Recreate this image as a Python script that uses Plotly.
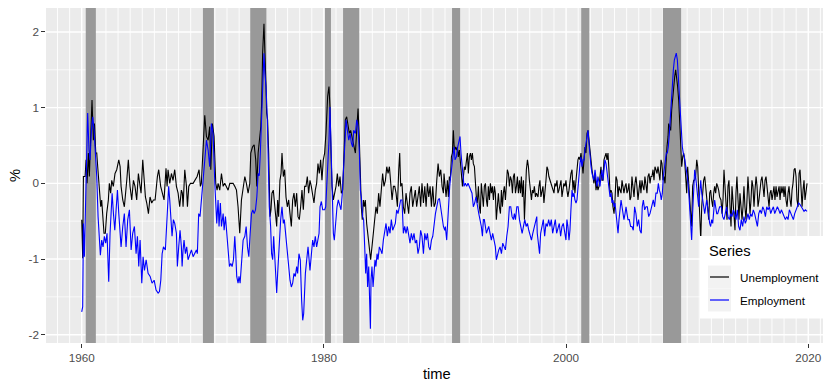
import plotly.graph_objects as go

# ---------------- data ----------------
series_names = ["Unemployment", "Employment"]
x_tick_vals = [1960, 1980, 2000, 2020]
y_tick_vals = [-2, -1, 0, 1, 2]

rec_start = [1960.333, 1970.0, 1973.917, 1980.083, 1981.583, 1990.583, 2001.25, 2008.0]
rec_end = [1961.167, 1970.917, 1975.25, 1980.583, 1982.917, 1991.25, 2001.917, 2009.5]

unemp_points = [
    (1960.00, -0.48), (1960.08, -0.99), (1960.14, 0.09), (1960.28, 0.09), (1960.36, 0.31),
    (1960.44, 0.00), (1960.55, 0.40), (1960.63, 0.09), (1960.74, 0.62), (1960.85, 1.10),
    (1960.96, 0.57), (1961.05, 0.79), (1961.16, 0.40), (1961.24, 0.40), (1961.32, 0.22),
    (1961.46, -0.04), (1961.57, -0.31), (1961.65, -0.22), (1961.73, -0.48), (1961.84, -0.66),
    (1961.95, -0.66), (1962.06, -0.40), (1962.20, -0.22), (1962.28, 0.00), (1962.39, -0.13),
    (1962.48, 0.04), (1962.61, -0.04), (1962.75, 0.13), (1962.89, 0.18), (1963.06, 0.31),
    (1963.17, 0.22), (1963.25, -0.04), (1963.39, -0.22), (1963.52, -0.31), (1963.72, 0.04),
    (1963.85, 0.31), (1963.99, -0.04), (1964.13, -0.22), (1964.27, 0.04), (1964.40, -0.04),
    (1964.54, -0.22), (1964.68, 0.13), (1964.82, -0.04), (1964.90, -0.13), (1965.04, 0.31),
    (1965.15, 0.04), (1965.26, -0.18), (1965.37, -0.26), (1965.51, -0.40), (1965.64, -0.18),
    (1965.78, -0.26), (1965.92, -0.22), (1966.06, -0.22), (1966.25, 0.09), (1966.36, 0.18),
    (1966.52, -0.04), (1966.69, -0.13), (1966.80, -0.22), (1966.96, 0.20), (1967.05, -0.04),
    (1967.13, 0.18), (1967.27, 0.00), (1967.41, 0.13), (1967.54, 0.04), (1967.68, 0.18),
    (1967.82, -0.04), (1967.96, -0.13), (1968.09, -0.31), (1968.23, -0.09), (1968.31, -0.13),
    (1968.37, -0.31), (1968.51, 0.18), (1968.65, -0.04), (1968.73, -0.31), (1968.84, -0.04),
    (1968.98, 0.00), (1969.20, 0.00), (1969.33, 0.04), (1969.53, 0.09), (1969.69, 0.18),
    (1969.80, -0.04), (1969.88, 0.00), (1969.97, 0.35), (1970.16, 0.90), (1970.30, 0.62),
    (1970.44, 0.57), (1970.57, 0.75), (1970.66, 0.18), (1970.79, 0.79), (1970.93, 0.62),
    (1971.07, 0.00), (1971.18, -0.09), (1971.26, 0.00), (1971.40, -0.09), (1971.54, 0.13),
    (1971.68, -0.04), (1971.81, 0.00), (1971.95, -0.04), (1972.09, -0.09), (1972.23, 0.00),
    (1972.50, 0.00), (1972.64, -0.04), (1972.78, -0.09), (1972.91, -0.31), (1972.99, -0.48),
    (1973.05, -0.66), (1973.19, -0.22), (1973.33, -0.04), (1973.47, 0.09), (1973.60, 0.00),
    (1973.74, -0.13), (1973.88, 0.00), (1973.96, 0.40), (1974.10, 0.48), (1974.24, 0.51),
    (1974.37, 0.31), (1974.46, -0.04), (1974.57, 0.40), (1974.79, 0.75), (1974.86, 1.06),
    (1974.94, 1.72), (1975.05, 2.11), (1975.13, 1.81), (1975.22, 1.28), (1975.27, 0.93),
    (1975.35, 0.84), (1975.44, 0.40), (1975.55, -0.44), (1975.63, -0.35), (1975.71, -0.13),
    (1975.82, -0.09), (1975.90, -0.22), (1975.99, -0.44), (1976.10, -0.57), (1976.18, -0.22),
    (1976.26, -0.44), (1976.37, 0.04), (1976.46, 0.13), (1976.54, 0.40), (1976.65, 0.09),
    (1976.76, 0.18), (1976.87, -0.18), (1976.98, -0.31), (1977.09, -0.22), (1977.20, -0.40),
    (1977.31, -0.57), (1977.42, -0.22), (1977.53, -0.13), (1977.64, -0.31), (1977.75, -0.13),
    (1977.86, -0.44), (1977.97, -0.48), (1978.08, -0.31), (1978.19, -0.09), (1978.30, -0.35),
    (1978.41, -0.04), (1978.52, -0.04), (1978.63, 0.09), (1978.74, -0.13), (1978.85, 0.04),
    (1978.96, -0.04), (1979.07, -0.13), (1979.18, -0.26), (1979.29, -0.09), (1979.40, 0.00),
    (1979.51, 0.26), (1979.62, 0.13), (1979.73, 0.31), (1979.84, 0.04), (1979.95, 0.31),
    (1980.06, 0.40), (1980.17, 0.66), (1980.31, 1.15), (1980.42, 1.28), (1980.50, 1.01),
    (1980.59, 0.40), (1980.67, -0.04), (1980.78, -0.22), (1980.89, -0.13), (1981.00, -0.04),
    (1981.11, 0.13), (1981.22, -0.04), (1981.33, 0.09), (1981.44, -0.13), (1981.55, -0.09),
    (1981.66, 0.40), (1981.77, 0.84), (1981.88, 0.88), (1981.99, 0.75), (1982.10, 0.66),
    (1982.21, 0.70), (1982.32, 0.62), (1982.46, 0.48), (1982.60, 0.40), (1982.71, 0.70),
    (1982.82, 0.99), (1982.93, 0.57), (1983.01, 0.04), (1983.09, -0.31), (1983.17, -0.48),
    (1983.26, -0.22), (1983.34, -0.31), (1983.42, -0.22), (1983.53, -0.53), (1983.64, -0.70),
    (1983.75, -0.88), (1983.86, -1.01), (1983.97, -0.84), (1984.08, -0.66), (1984.19, -0.48),
    (1984.30, -0.31), (1984.41, -0.40), (1984.52, -0.13), (1984.63, -0.31), (1984.74, -0.04),
    (1984.85, 0.13), (1984.96, -0.04), (1985.08, 0.04), (1985.19, 0.22), (1985.30, 0.13),
    (1985.41, 0.22), (1985.52, -0.04), (1985.63, -0.22), (1985.74, -0.04), (1985.85, -0.04),
    (1985.96, -0.13), (1986.07, -0.31), (1986.18, 0.18), (1986.26, 0.40), (1986.34, -0.04),
    (1986.45, 0.00), (1986.56, -0.31), (1986.67, -0.40), (1986.78, -0.13), (1986.89, -0.31),
    (1987.00, -0.40), (1987.11, -0.13), (1987.22, -0.04), (1987.33, -0.31), (1987.44, -0.22),
    (1987.55, -0.09), (1987.66, -0.31), (1987.77, -0.18), (1987.88, -0.04), (1987.99, -0.31),
    (1988.10, 0.00), (1988.22, -0.26), (1988.33, -0.04), (1988.44, -0.31), (1988.55, 0.00),
    (1988.66, -0.18), (1988.77, -0.04), (1988.88, -0.31), (1988.99, -0.04), (1989.10, -0.31),
    (1989.21, -0.26), (1989.32, 0.04), (1989.43, 0.26), (1989.54, 0.09), (1989.65, 0.18),
    (1989.76, -0.04), (1989.87, -0.13), (1989.92, 0.13), (1990.00, -0.04), (1990.09, -0.18),
    (1990.20, 0.04), (1990.28, -0.18), (1990.36, 0.09), (1990.44, 0.04), (1990.53, 0.35),
    (1990.61, 0.40), (1990.69, 0.70), (1990.77, 0.44), (1990.86, 0.48), (1990.94, 0.44),
    (1991.02, 0.48), (1991.10, 0.35), (1991.19, 0.44), (1991.27, 0.31), (1991.35, 0.13),
    (1991.44, -0.04), (1991.52, 0.09), (1991.60, 0.22), (1991.68, 0.18), (1991.77, 0.35),
    (1991.85, 0.40), (1991.93, 0.13), (1992.01, 0.35), (1992.10, 0.40), (1992.18, 0.31),
    (1992.26, 0.40), (1992.34, 0.26), (1992.43, 0.22), (1992.51, -0.04), (1992.59, -0.18),
    (1992.67, -0.26), (1992.76, -0.04), (1992.84, -0.31), (1992.92, -0.40), (1993.00, 0.00),
    (1993.09, -0.13), (1993.17, -0.31), (1993.25, -0.04), (1993.34, 0.00), (1993.42, -0.22),
    (1993.50, -0.31), (1993.58, -0.04), (1993.67, -0.22), (1993.75, 0.00), (1993.83, -0.13),
    (1993.91, -0.04), (1994.00, -0.22), (1994.08, -0.04), (1994.16, -0.13), (1994.24, -0.48),
    (1994.33, -0.31), (1994.41, -0.13), (1994.49, -0.31), (1994.58, -0.40), (1994.66, -0.09),
    (1994.74, -0.31), (1994.82, -0.13), (1994.90, -0.04), (1994.99, -0.22), (1995.07, 0.09),
    (1995.15, 0.18), (1995.24, 0.13), (1995.32, -0.04), (1995.40, 0.09), (1995.49, 0.04),
    (1995.57, -0.13), (1995.65, 0.09), (1995.73, 0.13), (1995.82, -0.13), (1995.90, -0.04),
    (1995.98, 0.09), (1996.06, -0.13), (1996.15, 0.04), (1996.23, -0.13), (1996.31, 0.09),
    (1996.39, -0.18), (1996.48, 0.04), (1996.56, -0.48), (1996.64, -0.13), (1996.72, 0.18),
    (1996.81, 0.31), (1996.89, 0.22), (1996.97, 0.04), (1997.05, -0.13), (1997.14, -0.22),
    (1997.22, -0.09), (1997.30, -0.13), (1997.38, -0.04), (1997.47, -0.18), (1997.55, -0.13),
    (1997.68, -0.18), (1997.76, -0.04), (1997.84, 0.04), (1997.92, -0.18), (1998.00, -0.09),
    (1998.09, -0.04), (1998.17, -0.26), (1998.25, -0.04), (1998.34, 0.04), (1998.42, 0.22),
    (1998.50, 0.18), (1998.58, 0.09), (1998.67, 0.04), (1998.75, 0.00), (1998.83, -0.04),
    (1998.91, -0.09), (1999.00, -0.13), (1999.08, 0.00), (1999.16, -0.04), (1999.25, 0.04),
    (1999.33, -0.13), (1999.41, -0.09), (1999.49, -0.04), (1999.58, 0.04), (1999.66, -0.18),
    (1999.74, -0.09), (1999.82, 0.00), (1999.91, -0.04), (1999.99, 0.04), (2000.07, -0.09),
    (2000.15, -0.18), (2000.24, -0.09), (2000.32, 0.04), (2000.40, 0.13), (2000.49, 0.18),
    (2000.57, -0.09), (2000.65, 0.04), (2000.73, -0.13), (2000.82, 0.04), (2000.90, 0.26),
    (2000.98, 0.31), (2001.06, 0.35), (2001.15, 0.31), (2001.23, 0.40), (2001.31, 0.22),
    (2001.40, 0.13), (2001.48, 0.31), (2001.56, 0.48), (2001.64, 0.40), (2001.73, 0.66),
    (2001.81, 0.70), (2001.89, 0.57), (2001.97, 0.44), (2002.06, 0.22), (2002.14, 0.18),
    (2002.22, 0.09), (2002.30, 0.00), (2002.39, 0.13), (2002.47, -0.09), (2002.55, 0.00),
    (2002.63, -0.09), (2002.72, -0.04), (2002.80, 0.13), (2002.88, 0.22), (2002.96, 0.04),
    (2003.05, 0.04), (2003.13, 0.31), (2003.21, 0.35), (2003.30, 0.40), (2003.38, 0.31),
    (2003.46, 0.40), (2003.54, 0.18), (2003.63, -0.13), (2003.71, -0.09), (2003.79, -0.13),
    (2003.87, -0.31), (2003.96, -0.40), (2004.04, -0.22), (2004.12, 0.09), (2004.21, 0.04),
    (2004.29, -0.18), (2004.37, -0.04), (2004.45, -0.09), (2004.54, -0.13), (2004.62, 0.04),
    (2004.70, -0.04), (2004.78, -0.13), (2004.87, -0.04), (2004.95, 0.00), (2005.03, -0.13),
    (2005.11, -0.09), (2005.19, 0.00), (2005.28, -0.22), (2005.36, -0.18), (2005.44, 0.09),
    (2005.52, -0.04), (2005.61, -0.18), (2005.69, 0.00), (2005.77, 0.09), (2005.85, -0.04),
    (2005.94, -0.22), (2006.02, -0.09), (2006.10, 0.04), (2006.18, -0.13), (2006.27, 0.04),
    (2006.35, -0.04), (2006.43, -0.09), (2006.51, 0.09), (2006.60, 0.00), (2006.68, -0.13),
    (2006.76, 0.09), (2006.85, 0.13), (2006.93, 0.00), (2007.01, 0.09), (2007.09, 0.09),
    (2007.18, 0.18), (2007.26, 0.04), (2007.34, 0.22), (2007.42, 0.18), (2007.51, 0.13),
    (2007.59, 0.22), (2007.67, 0.09), (2007.75, 0.04), (2007.84, 0.31), (2007.92, 0.26),
    (2008.00, 0.04), (2008.09, 0.09), (2008.17, 0.00), (2008.25, 0.31), (2008.33, 0.48),
    (2008.42, 0.62), (2008.47, 0.79), (2008.55, 0.75), (2008.64, 0.70), (2008.72, 0.97),
    (2008.80, 1.15), (2008.88, 1.28), (2008.97, 1.41), (2009.05, 1.50), (2009.13, 1.41),
    (2009.21, 1.28), (2009.30, 1.10), (2009.38, 0.84), (2009.46, 0.62), (2009.55, 0.22),
    (2009.63, 0.35), (2009.71, 0.40), (2009.79, 0.31), (2009.88, 0.13), (2009.96, -0.13),
    (2010.04, 0.22), (2010.13, 0.04), (2010.21, -0.22), (2010.29, -0.40), (2010.37, -0.57),
    (2010.45, -0.04), (2010.54, 0.04), (2010.62, 0.04), (2010.70, 0.09), (2010.79, 0.31),
    (2010.87, 0.22), (2010.95, -0.13), (2011.03, -0.57), (2011.12, -0.75), (2011.20, -0.31),
    (2011.28, -0.13), (2011.36, 0.04), (2011.45, 0.09), (2011.53, -0.04), (2011.61, -0.22),
    (2011.69, -0.31), (2011.78, -0.48), (2011.86, -0.13), (2011.94, -0.09), (2012.02, -0.22),
    (2012.11, -0.31), (2012.19, -0.13), (2012.27, -0.04), (2012.35, -0.13), (2012.44, 0.00),
    (2012.52, -0.04), (2012.60, -0.09), (2012.68, -0.18), (2012.79, -0.22), (2012.88, -0.40),
    (2012.96, -0.22), (2013.04, 0.18), (2013.12, -0.04), (2013.21, -0.31), (2013.29, -0.48),
    (2013.37, -0.04), (2013.45, 0.04), (2013.54, -0.31), (2013.62, -0.57), (2013.70, -0.04),
    (2013.78, -0.22), (2013.87, -0.48), (2013.95, -0.62), (2014.03, -0.13), (2014.11, 0.09),
    (2014.20, -0.22), (2014.28, -0.48), (2014.36, -0.13), (2014.44, -0.31), (2014.53, -0.48),
    (2014.61, -0.31), (2014.69, -0.04), (2014.77, -0.31), (2014.86, -0.48), (2014.94, -0.22),
    (2015.02, 0.09), (2015.10, -0.13), (2015.19, -0.40), (2015.27, -0.22), (2015.35, 0.04),
    (2015.43, -0.04), (2015.52, -0.31), (2015.60, -0.09), (2015.69, 0.09), (2015.77, -0.04),
    (2015.85, -0.31), (2015.93, -0.22), (2016.02, -0.04), (2016.10, 0.04), (2016.18, 0.09),
    (2016.26, -0.09), (2016.35, -0.18), (2016.43, 0.04), (2016.51, 0.09), (2016.59, -0.04),
    (2016.68, -0.26), (2016.76, -0.31), (2016.84, -0.13), (2016.92, -0.09), (2017.01, -0.22),
    (2017.09, -0.13), (2017.17, -0.04), (2017.25, -0.22), (2017.34, -0.04), (2017.42, -0.18),
    (2017.50, -0.09), (2017.59, -0.04), (2017.67, -0.22), (2017.75, -0.04), (2017.83, -0.13),
    (2017.92, -0.04), (2018.00, -0.18), (2018.08, -0.04), (2018.16, -0.22), (2018.25, -0.31),
    (2018.33, -0.13), (2018.41, -0.04), (2018.50, -0.22), (2018.58, -0.31), (2018.66, -0.09),
    (2018.74, 0.00), (2018.83, 0.18), (2018.91, 0.20), (2018.99, 0.09), (2019.07, -0.22),
    (2019.16, -0.31), (2019.24, 0.13), (2019.32, 0.18), (2019.40, -0.18), (2019.49, -0.31),
    (2019.57, -0.09), (2019.65, 0.04), (2019.73, -0.22), (2019.82, -0.13), (2019.90, 0.00),
]

emp_points = [
    (1960.00, -1.70), (1960.08, -1.63), (1960.14, -0.53), (1960.22, -0.97), (1960.30, -0.40),
    (1960.38, 0.22), (1960.49, 0.93), (1960.60, 0.44), (1960.69, 0.31), (1960.80, 0.70),
    (1960.91, 0.88), (1961.02, 0.70), (1961.13, 0.40), (1961.24, 0.09), (1961.35, -0.44),
    (1961.46, -0.75), (1961.54, -0.95), (1961.65, -0.75), (1961.76, -0.84), (1961.87, -0.70),
    (1961.98, -0.79), (1962.09, -0.66), (1962.23, -1.30), (1962.34, -0.66), (1962.42, -0.40),
    (1962.51, -0.13), (1962.62, -0.40), (1962.73, -0.62), (1962.84, -0.35), (1962.95, -0.09),
    (1963.06, -0.40), (1963.17, -0.66), (1963.25, -0.84), (1963.39, -0.57), (1963.52, -0.40),
    (1963.66, -0.84), (1963.80, -0.48), (1963.94, -0.35), (1964.08, -0.88), (1964.21, -0.66),
    (1964.35, -0.57), (1964.49, -0.93), (1964.60, -0.70), (1964.71, -1.10), (1964.82, -0.75),
    (1964.96, -1.32), (1965.07, -0.97), (1965.18, -1.15), (1965.32, -1.01), (1965.48, -1.19),
    (1965.65, -1.23), (1965.81, -1.32), (1965.98, -1.28), (1966.14, -1.41), (1966.31, -1.45),
    (1966.42, -1.43), (1966.53, -1.28), (1966.64, -0.93), (1966.75, -0.84), (1966.91, -0.88),
    (1967.02, -0.57), (1967.10, -0.31), (1967.18, -0.04), (1967.27, -0.22), (1967.35, -0.48),
    (1967.46, -0.70), (1967.57, -0.48), (1967.68, -0.53), (1967.82, -0.66), (1967.90, -1.10),
    (1968.01, -0.84), (1968.12, -0.62), (1968.23, -0.84), (1968.29, -1.10), (1968.37, -0.88),
    (1968.45, -0.75), (1968.56, -0.93), (1968.67, -0.84), (1968.78, -1.01), (1968.92, -0.93),
    (1969.06, -0.88), (1969.20, -0.97), (1969.33, -0.93), (1969.47, -0.88), (1969.55, -0.93),
    (1969.66, -0.40), (1969.77, -0.44), (1969.88, -0.22), (1969.97, -0.09), (1970.08, 0.13),
    (1970.16, 0.31), (1970.30, 0.57), (1970.44, 0.44), (1970.57, 0.22), (1970.71, 0.79),
    (1970.85, 0.66), (1970.99, 0.00), (1971.07, -0.31), (1971.15, -0.53), (1971.26, -0.22),
    (1971.34, -0.57), (1971.45, -0.26), (1971.54, -0.57), (1971.68, -0.40), (1971.76, -0.62),
    (1971.87, -0.44), (1971.98, -0.66), (1972.09, -0.88), (1972.20, -1.10), (1972.31, -1.06),
    (1972.42, -1.10), (1972.53, -1.01), (1972.64, -0.70), (1972.72, -0.93), (1972.80, -1.23),
    (1972.91, -1.32), (1972.99, -1.23), (1973.08, -1.32), (1973.19, -1.01), (1973.33, -0.75),
    (1973.47, -0.70), (1973.58, -0.57), (1973.69, -0.84), (1973.80, -0.97), (1973.91, -0.66),
    (1974.02, -0.40), (1974.13, -0.35), (1974.24, -0.40), (1974.35, -0.35), (1974.46, -0.18),
    (1974.57, 0.13), (1974.66, 0.10), (1974.75, 0.40), (1974.84, 0.75), (1974.95, 1.40),
    (1975.05, 1.72), (1975.13, 1.45), (1975.22, 1.28), (1975.33, 0.84), (1975.44, 0.18),
    (1975.49, -0.31), (1975.60, -0.57), (1975.68, -0.93), (1975.77, -1.01), (1975.85, -0.70),
    (1975.93, -0.93), (1976.01, -1.28), (1976.10, -1.45), (1976.18, -1.19), (1976.29, -0.84),
    (1976.43, -0.48), (1976.54, -0.31), (1976.65, -0.53), (1976.73, -0.48), (1976.87, -0.75),
    (1976.98, -0.93), (1977.09, -1.06), (1977.20, -1.28), (1977.31, -1.37), (1977.42, -1.32),
    (1977.53, -1.19), (1977.64, -1.23), (1977.75, -1.10), (1977.83, -1.19), (1977.94, -0.93),
    (1978.05, -1.01), (1978.16, -1.54), (1978.25, -1.81), (1978.33, -1.72), (1978.47, -1.19),
    (1978.58, -1.01), (1978.69, -0.84), (1978.85, -1.15), (1978.96, -0.93), (1979.07, -0.75),
    (1979.18, -0.84), (1979.29, -0.70), (1979.40, -0.84), (1979.51, -0.75), (1979.60, -0.66),
    (1979.68, -0.31), (1979.79, -0.24), (1979.90, -0.35), (1980.06, -0.35), (1980.15, -0.31),
    (1980.31, 0.13), (1980.42, 0.57), (1980.50, 1.01), (1980.59, 0.40), (1980.67, -0.13),
    (1980.78, -0.66), (1980.86, -0.75), (1980.97, -0.48), (1981.08, -0.31), (1981.19, -0.22),
    (1981.30, -0.31), (1981.41, -0.35), (1981.52, -0.13), (1981.63, 0.18), (1981.74, 0.48),
    (1981.83, 0.84), (1981.94, 0.70), (1982.05, 0.57), (1982.16, 0.66), (1982.27, 0.53),
    (1982.38, 0.48), (1982.46, 0.70), (1982.60, 0.66), (1982.71, 0.84), (1982.82, 0.75),
    (1982.93, 0.40), (1983.01, -0.09), (1983.09, -0.18), (1983.20, -0.44), (1983.28, -0.48),
    (1983.37, -0.84), (1983.45, -1.19), (1983.53, -0.93), (1983.61, -1.37), (1983.70, -1.10),
    (1983.78, -1.63), (1983.84, -1.92), (1983.89, -1.28), (1983.97, -1.10), (1984.06, -1.37),
    (1984.14, -1.19), (1984.22, -1.01), (1984.30, -1.10), (1984.39, -0.93), (1984.47, -1.01),
    (1984.58, -0.84), (1984.69, -0.88), (1984.80, -0.93), (1984.91, -0.75), (1985.02, -0.66),
    (1985.13, -0.53), (1985.24, -0.70), (1985.35, -0.57), (1985.46, -0.66), (1985.57, -0.48),
    (1985.68, -0.62), (1985.79, -0.57), (1985.90, -0.53), (1986.01, -0.35), (1986.12, -0.40),
    (1986.23, -0.31), (1986.34, -0.22), (1986.45, -0.22), (1986.56, -0.66), (1986.67, -0.57),
    (1986.78, -0.66), (1986.89, -0.57), (1987.00, -0.70), (1987.11, -0.79), (1987.22, -0.66),
    (1987.33, -0.75), (1987.44, -0.66), (1987.55, -0.79), (1987.66, -0.75), (1987.77, -0.93),
    (1987.88, -0.84), (1987.99, -0.62), (1988.10, -0.70), (1988.22, -0.93), (1988.33, -0.66),
    (1988.44, -0.75), (1988.55, -0.66), (1988.66, -0.84), (1988.77, -0.88), (1988.88, -0.75),
    (1988.99, -0.70), (1989.10, -0.53), (1989.21, -0.40), (1989.32, -0.31), (1989.43, -0.22),
    (1989.54, -0.20), (1989.65, -0.31), (1989.76, -0.48), (1989.87, -0.57), (1989.98, -0.62),
    (1990.03, -0.57), (1990.14, -0.75), (1990.22, -0.48), (1990.31, -0.22), (1990.39, -0.04),
    (1990.47, 0.09), (1990.55, 0.22), (1990.64, 0.31), (1990.75, 0.48), (1990.83, 0.31),
    (1990.94, 0.35), (1991.05, 0.48), (1991.16, 0.57), (1991.24, 0.62), (1991.32, 0.40),
    (1991.41, 0.22), (1991.49, 0.04), (1991.57, -0.04), (1991.68, 0.00), (1991.79, -0.04),
    (1991.90, 0.00), (1992.01, -0.04), (1992.12, -0.09), (1992.23, -0.13), (1992.34, -0.31),
    (1992.45, -0.26), (1992.56, -0.18), (1992.67, -0.31), (1992.79, -0.40), (1992.89, -0.48),
    (1993.00, -0.57), (1993.09, -0.70), (1993.17, -0.48), (1993.25, -0.48), (1993.34, -0.57),
    (1993.42, -0.66), (1993.50, -0.62), (1993.61, -0.57), (1993.72, -0.66), (1993.83, -0.75),
    (1993.94, -0.66), (1994.05, -0.75), (1994.16, -0.84), (1994.24, -1.01), (1994.33, -0.93),
    (1994.44, -0.88), (1994.55, -0.84), (1994.66, -0.93), (1994.77, -0.79), (1994.88, -0.84),
    (1994.99, -0.88), (1995.10, -0.70), (1995.21, -0.57), (1995.32, -0.31), (1995.43, -0.31),
    (1995.54, -0.44), (1995.65, -0.48), (1995.73, -0.40), (1995.82, -0.48), (1995.93, -0.31),
    (1996.04, -0.31), (1996.15, -0.48), (1996.26, -0.57), (1996.37, -0.66), (1996.48, -0.57),
    (1996.59, -0.48), (1996.70, -0.57), (1996.81, -0.53), (1996.92, -0.62), (1997.03, -0.70),
    (1997.14, -0.75), (1997.25, -0.66), (1997.36, -0.57), (1997.47, -0.48), (1997.58, -0.44),
    (1997.62, -0.66), (1997.70, -0.75), (1997.81, -0.93), (1997.90, -0.66), (1998.01, -0.57),
    (1998.12, -0.48), (1998.23, -0.70), (1998.34, -0.53), (1998.45, -0.57), (1998.56, -0.48),
    (1998.67, -0.57), (1998.78, -0.48), (1998.89, -0.66), (1999.00, -0.57), (1999.11, -0.48),
    (1999.22, -0.66), (1999.33, -0.57), (1999.44, -0.53), (1999.55, -0.70), (1999.66, -0.57),
    (1999.77, -0.53), (1999.88, -0.66), (1999.99, -0.75), (2000.07, -0.48), (2000.15, -0.57),
    (2000.24, -0.75), (2000.32, -0.62), (2000.40, -0.35), (2000.49, -0.09), (2000.57, -0.18),
    (2000.65, -0.13), (2000.73, -0.22), (2000.82, -0.26), (2000.90, -0.22), (2000.98, -0.04),
    (2001.06, 0.09), (2001.15, 0.26), (2001.23, 0.35), (2001.31, 0.22), (2001.40, 0.31),
    (2001.48, 0.31), (2001.56, 0.44), (2001.64, 0.53), (2001.73, 0.66), (2001.81, 0.70),
    (2001.89, 0.53), (2001.97, 0.31), (2002.06, 0.22), (2002.14, 0.13), (2002.22, 0.09),
    (2002.30, 0.04), (2002.39, 0.18), (2002.47, 0.04), (2002.55, -0.04), (2002.63, 0.09),
    (2002.72, 0.04), (2002.80, -0.04), (2002.88, 0.09), (2002.96, 0.18), (2003.05, 0.04),
    (2003.13, 0.22), (2003.21, 0.31), (2003.30, 0.26), (2003.38, 0.13), (2003.46, 0.04),
    (2003.54, -0.13), (2003.63, -0.18), (2003.71, -0.13), (2003.79, -0.26), (2003.87, -0.22),
    (2003.96, -0.31), (2004.04, -0.26), (2004.12, -0.40), (2004.21, -0.48), (2004.29, -0.66),
    (2004.37, -0.48), (2004.45, -0.31), (2004.54, -0.22), (2004.62, -0.31), (2004.70, -0.44),
    (2004.78, -0.48), (2004.87, -0.40), (2004.95, -0.31), (2005.03, -0.40), (2005.11, -0.48),
    (2005.22, -0.48), (2005.33, -0.57), (2005.44, -0.57), (2005.55, -0.62), (2005.66, -0.31),
    (2005.77, -0.40), (2005.88, -0.57), (2005.99, -0.48), (2006.10, -0.62), (2006.21, -0.66),
    (2006.29, -0.31), (2006.38, -0.22), (2006.49, -0.35), (2006.60, -0.31), (2006.71, -0.31),
    (2006.82, -0.44), (2006.93, -0.40), (2007.04, -0.31), (2007.12, -0.26), (2007.20, -0.22),
    (2007.31, -0.31), (2007.42, -0.13), (2007.53, -0.13), (2007.62, 0.00), (2007.70, -0.09),
    (2007.78, -0.13), (2007.86, -0.22), (2007.95, -0.13), (2008.03, 0.09), (2008.11, 0.22),
    (2008.20, 0.31), (2008.28, 0.40), (2008.36, 0.40), (2008.44, 0.48), (2008.53, 0.66),
    (2008.61, 0.88), (2008.69, 1.15), (2008.77, 1.32), (2008.86, 1.50), (2008.94, 1.63),
    (2009.02, 1.67), (2009.10, 1.72), (2009.19, 1.63), (2009.27, 1.41), (2009.35, 1.15),
    (2009.44, 0.88), (2009.52, 0.66), (2009.60, 0.48), (2009.68, 0.40), (2009.77, 0.35),
    (2009.85, 0.26), (2009.93, 0.13), (2010.01, 0.09), (2010.10, -0.04), (2010.18, -0.22),
    (2010.26, -0.40), (2010.32, -0.66), (2010.37, -0.75), (2010.45, -0.40), (2010.54, -0.04),
    (2010.62, 0.18), (2010.70, 0.09), (2010.78, -0.04), (2010.87, -0.22), (2010.95, -0.31),
    (2011.03, -0.13), (2011.12, 0.04), (2011.20, -0.13), (2011.28, -0.22), (2011.36, -0.31),
    (2011.45, -0.40), (2011.53, -0.31), (2011.61, -0.22), (2011.69, -0.31), (2011.78, -0.48),
    (2011.86, -0.53), (2011.94, -0.57), (2012.02, -0.48), (2012.11, -0.53), (2012.19, -0.35),
    (2012.27, -0.22), (2012.35, -0.31), (2012.44, -0.40), (2012.52, -0.40), (2012.60, -0.35),
    (2012.68, -0.31), (2012.82, -0.31), (2012.93, -0.44), (2013.04, -0.48), (2013.15, -0.40),
    (2013.26, -0.31), (2013.37, -0.44), (2013.48, -0.48), (2013.59, -0.40), (2013.70, -0.44),
    (2013.81, -0.35), (2013.92, -0.40), (2014.03, -0.48), (2014.14, -0.35), (2014.25, -0.57),
    (2014.36, -0.62), (2014.47, -0.48), (2014.58, -0.57), (2014.69, -0.44), (2014.80, -0.53),
    (2014.91, -0.48), (2015.02, -0.40), (2015.13, -0.48), (2015.24, -0.40), (2015.35, -0.44),
    (2015.46, -0.35), (2015.57, -0.40), (2015.69, -0.48), (2015.80, -0.57), (2015.91, -0.40),
    (2016.02, -0.35), (2016.13, -0.40), (2016.24, -0.31), (2016.35, -0.35), (2016.46, -0.44),
    (2016.57, -0.31), (2016.68, -0.35), (2016.79, -0.31), (2016.90, -0.40), (2017.01, -0.35),
    (2017.12, -0.31), (2017.23, -0.40), (2017.34, -0.35), (2017.45, -0.31), (2017.56, -0.35),
    (2017.67, -0.40), (2017.78, -0.35), (2017.89, -0.40), (2018.00, -0.44), (2018.11, -0.48),
    (2018.22, -0.44), (2018.33, -0.48), (2018.44, -0.35), (2018.55, -0.40), (2018.66, -0.44),
    (2018.77, -0.48), (2018.88, -0.40), (2018.99, -0.35), (2019.10, -0.31), (2019.21, -0.26),
    (2019.32, -0.28), (2019.43, -0.31), (2019.54, -0.35), (2019.65, -0.37), (2019.76, -0.35),
    (2019.90, -0.37),
]

unemp_year = [p[0] for p in unemp_points]
unemp_val = [p[1] for p in unemp_points]
emp_year = [p[0] for p in emp_points]
emp_val = [p[1] for p in emp_points]

# ---------------- styling ----------------
FONT = "Liberation Sans, Arial, sans-serif"
OFF = 8                      # the page body adds an 8px margin around the figure
PAGE_W, PAGE_H = 831, 385
W, H = PAGE_W - OFF, PAGE_H - OFF
# panel edges in page pixels
L, R, T, B = 46, 828, 8, 343
X_RANGE = [1957.05, 2021.63]
Y_RANGE = [-2.11, 2.317]
series_colors = ["#000000", "#0000FF"]


def pxx(x):
    return (x - L) / (R - L)


def pxy(y):
    return (B - y) / (B - T)


fig = go.Figure()
fig.add_trace(go.Scatter(x=unemp_year, y=unemp_val, mode="lines", name=series_names[0],
                         line=dict(color=series_colors[0], width=1.1), showlegend=False,
                         hoverinfo="skip"))
fig.add_trace(go.Scatter(x=emp_year, y=emp_val, mode="lines", name=series_names[1],
                         line=dict(color=series_colors[1], width=1.1), showlegend=False,
                         hoverinfo="skip"))

shapes = []
# grid (drawn as shapes so the recession bars can sit on top of it)
for yr in range(1958, 2022):
    shapes.append(dict(type="line", xref="x", yref="paper", x0=yr, x1=yr, y0=0, y1=1,
                       line=dict(color="white", width=1.4 if yr in x_tick_vals else 0.9),
                       layer="below"))
for k in range(-4, 5):
    v = k * 0.5
    shapes.append(dict(type="line", xref="paper", yref="y", x0=0, x1=1, y0=v, y1=v,
                       line=dict(color="white", width=1.4 if k % 2 == 0 else 0.7),
                       layer="below"))
for s, e in zip(rec_start, rec_end):
    shapes.append(dict(type="rect", xref="x", yref="paper", x0=s, x1=e, y0=0, y1=1,
                       fillcolor="#999999", line=dict(width=0), layer="below"))

# legend (ggplot style, inside the panel)
shapes.append(dict(type="rect", xref="paper", yref="paper", x0=pxx(700), x1=pxx(827),
                   y0=pxy(318.5), y1=pxy(236), fillcolor="white", line=dict(width=0), layer="above"))
key_tops = [265.5, 288.5]
for i, kt in enumerate(key_tops):
    shapes.append(dict(type="rect", xref="paper", yref="paper", x0=pxx(708), x1=pxx(731),
                       y0=pxy(kt + 23), y1=pxy(kt), fillcolor="#F2F2F2", line=dict(width=0),
                       layer="above"))
    shapes.append(dict(type="line", xref="paper", yref="paper", x0=pxx(710), x1=pxx(729),
                       y0=pxy(kt + 11.5), y1=pxy(kt + 11.5),
                       line=dict(color=series_colors[i], width=1.2), layer="above"))

annotations = [
    dict(text="Series", x=pxx(707), y=pxy(251), xref="paper", yref="paper", showarrow=False,
         xanchor="left", yanchor="middle", font=dict(family=FONT, size=14.7, color="#000000")),
    dict(text=series_names[0], x=pxx(738), y=pxy(277), xref="paper", yref="paper", showarrow=False,
         xanchor="left", yanchor="middle", font=dict(family=FONT, size=11.7, color="#000000")),
    dict(text=series_names[1], x=pxx(738), y=pxy(300.5), xref="paper", yref="paper", showarrow=False,
         xanchor="left", yanchor="middle", font=dict(family=FONT, size=11.7, color="#000000")),
    dict(text="time", x=pxx(437), y=pxy(374), xref="paper", yref="paper", showarrow=False,
         xanchor="center", yanchor="middle", font=dict(family=FONT, size=14.7, color="#000000")),
    dict(text="%", x=pxx(15), y=pxy(176), xref="paper", yref="paper", showarrow=False,
         textangle=-90, xanchor="center", yanchor="middle",
         font=dict(family=FONT, size=14.7, color="#000000")),
]

fig.update_layout(
    width=W, height=H,
    margin=dict(l=L - OFF, r=PAGE_W - R, t=T - OFF, b=PAGE_H - B, pad=0, autoexpand=False),
    paper_bgcolor="white", plot_bgcolor="#EBEBEB",
    shapes=shapes, annotations=annotations,
    showlegend=False,
    font=dict(family=FONT),
    xaxis=dict(range=X_RANGE, tickmode="array", tickvals=x_tick_vals,
               ticktext=[str(v) for v in x_tick_vals],
               showgrid=False, zeroline=False,
               ticks="outside", ticklen=3.7, tickwidth=1.07, tickcolor="#333333",
               tickfont=dict(family=FONT, size=11.7, color="#4D4D4D"),
               showline=False, fixedrange=True),
    yaxis=dict(range=Y_RANGE, tickmode="array", tickvals=y_tick_vals,
               ticktext=[str(v) for v in y_tick_vals],
               showgrid=False, zeroline=False,
               ticks="outside", ticklen=3.7, tickwidth=1.07, tickcolor="#333333",
               tickfont=dict(family=FONT, size=11.7, color="#4D4D4D"),
               showline=False, fixedrange=True),
)

fig.write_html("out.html")
